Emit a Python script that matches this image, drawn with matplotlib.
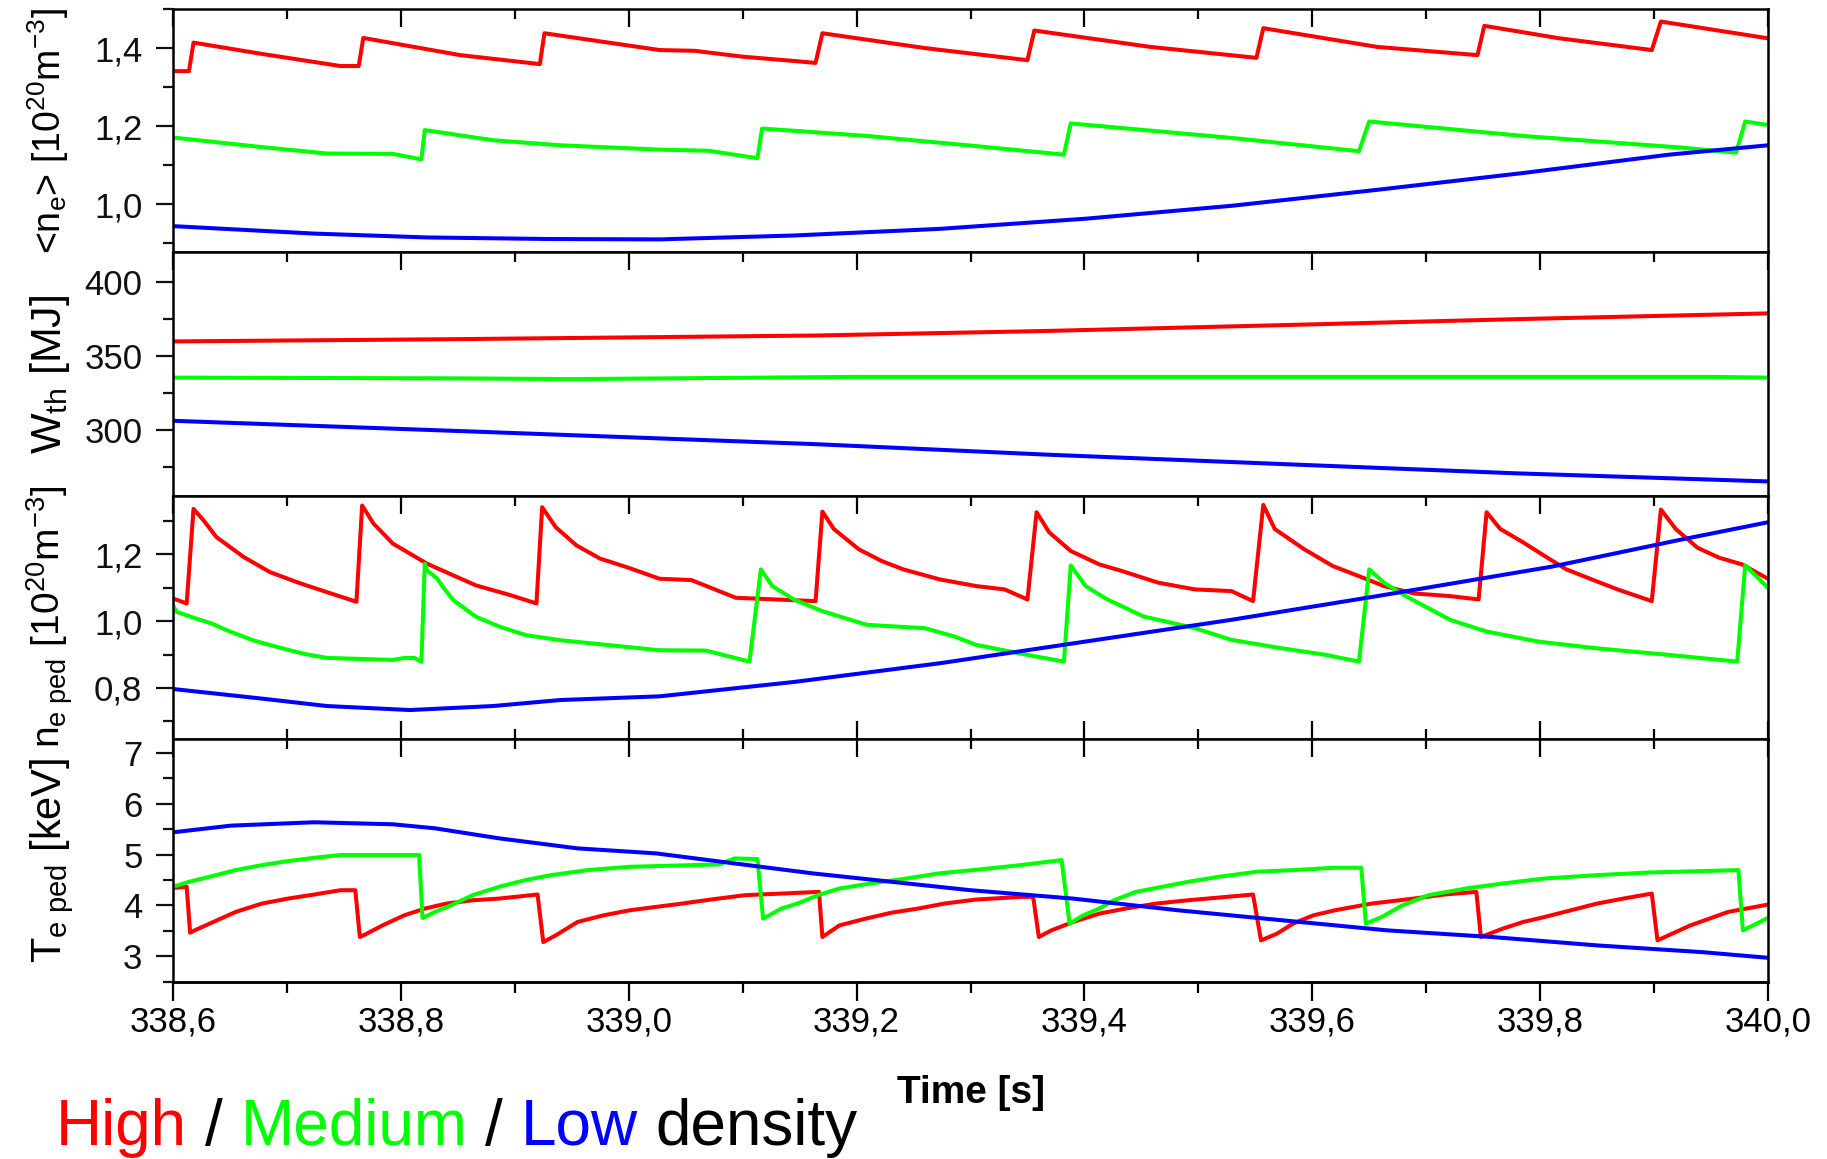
import matplotlib
matplotlib.use("Agg")
import matplotlib.pyplot as plt
from matplotlib.ticker import MultipleLocator, FixedLocator

plt.rcParams['font.family'] = ['Liberation Sans', 'DejaVu Sans']
plt.rcParams['mathtext.fontset'] = 'custom'
plt.rcParams['mathtext.rm'] = 'Liberation Sans'
plt.rcParams['mathtext.it'] = 'Liberation Sans'
plt.rcParams['mathtext.bf'] = 'Liberation Sans:bold'

RED, GREEN, BLUE = '#ff0000', '#00ff00', '#0000ff'

# --- time axis ---
x_ticks = [338.6, 338.8, 339.0, 339.2, 339.4, 339.6, 339.8, 340.0]
x_ticklabels = ['338,6', '338,8', '339,0', '339,2', '339,4', '339,6', '339,8', '340,0']

# --- <n_e> line-averaged density [1e20 m^-3] ---
ne_high_t = [338.600, 338.614, 338.618, 338.676, 338.747, 338.763, 338.767, 338.852, 338.922,
             338.926, 339.027, 339.058, 339.100, 339.145, 339.164, 339.170, 339.260, 339.350,
             339.356, 339.458, 339.551, 339.557, 339.657, 339.745, 339.751, 339.817, 339.898,
             339.906, 340.000]
ne_high = [1.341, 1.341, 1.414, 1.386, 1.354, 1.354, 1.426, 1.382, 1.359,
           1.438, 1.395, 1.393, 1.378, 1.367, 1.362, 1.438, 1.400, 1.369,
           1.445, 1.403, 1.375, 1.451, 1.403, 1.382, 1.457, 1.425, 1.395,
           1.468, 1.425]
ne_med_t = [338.600, 338.676, 338.735, 338.793, 338.818, 338.821, 338.881, 338.940, 339.027,
            339.070, 339.113, 339.117, 339.209, 339.305, 339.382, 339.388, 339.529, 339.641,
            339.650, 339.785, 339.925, 339.972, 339.980, 340.000]
ne_med = [1.171, 1.147, 1.130, 1.129, 1.115, 1.190, 1.164, 1.151, 1.140,
          1.137, 1.118, 1.194, 1.175, 1.149, 1.127, 1.207, 1.170, 1.136,
          1.212, 1.175, 1.145, 1.132, 1.212, 1.203]
ne_low_t = [338.600, 338.723, 338.823, 338.930, 339.027, 339.145, 339.273, 339.401, 339.529,
            339.657, 339.785, 339.913, 340.000]
ne_low = [0.944, 0.925, 0.915, 0.911, 0.910, 0.920, 0.937, 0.963, 0.996,
          1.037, 1.080, 1.127, 1.151]

# --- W_th thermal energy [MJ] ---
wth_high_t = [338.600, 338.858, 339.165, 339.369, 339.574, 339.778, 340.000]
wth_high = [359.9, 361.5, 363.9, 367.0, 370.9, 374.9, 378.8]
wth_med_t = [338.600, 338.850, 338.950, 339.200, 339.950, 340.000]
wth_med = [335.5, 335.0, 334.5, 336.0, 336.0, 335.5]
wth_low_t = [338.600, 338.858, 339.165, 339.369, 339.574, 339.778, 340.000]
wth_low = [306.4, 299.3, 290.6, 283.5, 277.2, 271.0, 265.5]

# --- pedestal density [1e20 m^-3] ---
nped_high_t = [338.600, 338.612, 338.618, 338.627, 338.638, 338.662, 338.685, 338.711, 338.735,
               338.761, 338.766, 338.776, 338.793, 338.808, 338.823, 338.846, 338.866, 338.896,
               338.919, 338.924, 338.936, 338.954, 338.975, 338.998, 339.027, 339.055, 339.094,
               339.164, 339.170, 339.180, 339.202, 339.222, 339.241, 339.273, 339.305, 339.330,
               339.350, 339.358, 339.369, 339.388, 339.413, 339.433, 339.465, 339.497, 339.529,
               339.548, 339.557, 339.567, 339.593, 339.618, 339.637, 339.663, 339.689, 339.721,
               339.746, 339.753, 339.765, 339.785, 339.804, 339.823, 339.849, 339.868, 339.898,
               339.906, 339.919, 339.938, 339.957, 339.977, 340.000]
nped_high = [1.068, 1.053, 1.336, 1.301, 1.252, 1.192, 1.147, 1.114, 1.087,
             1.058, 1.346, 1.292, 1.232, 1.202, 1.172, 1.137, 1.107, 1.078,
             1.053, 1.341, 1.281, 1.227, 1.187, 1.162, 1.127, 1.123, 1.070,
             1.060, 1.328, 1.276, 1.215, 1.180, 1.155, 1.125, 1.105, 1.095,
             1.065, 1.326, 1.266, 1.210, 1.170, 1.150, 1.115, 1.095, 1.090,
             1.060, 1.348, 1.276, 1.215, 1.165, 1.140, 1.105, 1.083, 1.075,
             1.065, 1.326, 1.276, 1.236, 1.195, 1.155, 1.120, 1.095, 1.060,
             1.334, 1.276, 1.220, 1.190, 1.170, 1.127]
nped_med_t = [338.600, 338.603, 338.620, 338.634, 338.647, 338.670, 338.691, 338.714, 338.735,
              338.793, 338.803, 338.812, 338.818, 338.821, 338.823, 338.832, 338.837, 338.846,
              338.866, 338.887, 338.910, 338.940, 338.969, 339.027, 339.068, 339.106, 339.116,
              339.126, 339.145, 339.170, 339.209, 339.260, 339.286, 339.305, 339.350, 339.382,
              339.388, 339.401, 339.420, 339.452, 339.497, 339.529, 339.573, 339.612, 339.641,
              339.650, 339.663, 339.682, 339.721, 339.753, 339.798, 339.849, 339.913, 339.973,
              339.980, 340.000]
nped_med = [1.048, 1.028, 1.008, 0.993, 0.973, 0.943, 0.923, 0.903, 0.890,
            0.884, 0.890, 0.890, 0.878, 1.172, 1.152, 1.127, 1.102, 1.063,
            1.013, 0.983, 0.958, 0.943, 0.933, 0.913, 0.912, 0.879, 1.155,
            1.105, 1.065, 1.030, 0.989, 0.979, 0.954, 0.929, 0.899, 0.879,
            1.167, 1.105, 1.065, 1.014, 0.979, 0.944, 0.919, 0.899, 0.879,
            1.155, 1.115, 1.075, 1.004, 0.969, 0.939, 0.919, 0.899, 0.879,
            1.167, 1.100]
nped_low_t = [338.600, 338.676, 338.735, 338.808, 338.881, 338.940, 339.027, 339.145, 339.273,
              339.401, 339.529, 339.657, 339.810, 339.925, 340.000]
nped_low = [0.797, 0.769, 0.746, 0.734, 0.746, 0.764, 0.775, 0.818, 0.874,
            0.939, 1.004, 1.075, 1.163, 1.245, 1.296]

# --- pedestal temperature [keV] ---
tped_high_t = [338.600, 338.612, 338.615, 338.619, 338.632, 338.655, 338.678, 338.701, 338.724,
               338.747, 338.760, 338.764, 338.770, 338.784, 338.803, 338.821, 338.840, 338.863,
               338.886, 338.920, 338.925, 338.936, 338.955, 338.978, 339.001, 339.024, 339.047,
               339.074, 339.102, 339.167, 339.170, 339.185, 339.208, 339.231, 339.254, 339.277,
               339.305, 339.344, 339.355, 339.360, 339.371, 339.390, 339.413, 339.436, 339.463,
               339.491, 339.518, 339.548, 339.555, 339.569, 339.583, 339.601, 339.620, 339.652,
               339.689, 339.716, 339.744, 339.748, 339.767, 339.785, 339.804, 339.827, 339.850,
               339.873, 339.898, 339.903, 339.919, 339.932, 339.965, 340.000]
tped_high = [4.344, 4.364, 3.461, 3.507, 3.639, 3.870, 4.035, 4.133, 4.213,
             4.298, 4.298, 3.376, 3.442, 3.606, 3.804, 3.936, 4.035, 4.100,
             4.133, 4.213, 3.277, 3.409, 3.672, 3.804, 3.903, 3.969, 4.035,
             4.120, 4.200, 4.265, 3.376, 3.606, 3.738, 3.857, 3.936, 4.035,
             4.114, 4.166, 4.166, 3.376, 3.507, 3.672, 3.837, 3.936, 4.035,
             4.100, 4.153, 4.213, 3.310, 3.442, 3.639, 3.804, 3.903, 4.035,
             4.133, 4.213, 4.265, 3.376, 3.540, 3.672, 3.771, 3.903, 4.035,
             4.133, 4.232, 3.310, 3.474, 3.606, 3.870, 4.015]
tped_med_t = [338.600, 338.614, 338.632, 338.655, 338.678, 338.701, 338.724, 338.747, 338.816,
              338.819, 338.830, 338.844, 338.863, 338.886, 338.909, 338.932, 338.964, 339.001,
              339.079, 339.093, 339.113, 339.118, 339.134, 339.148, 339.166, 339.185, 339.212,
              339.240, 339.272, 339.305, 339.344, 339.380, 339.387, 339.399, 339.413, 339.426,
              339.445, 339.468, 339.491, 339.518, 339.551, 339.583, 339.620, 339.643, 339.647,
              339.661, 339.679, 339.702, 339.735, 339.767, 339.804, 339.850, 339.896, 339.974,
              339.978, 340.000]
tped_med = [4.364, 4.463, 4.562, 4.694, 4.792, 4.871, 4.937, 4.990, 4.990,
            3.751, 3.870, 4.000, 4.200, 4.364, 4.496, 4.595, 4.694, 4.759,
            4.806, 4.924, 4.911, 3.738, 3.936, 4.035, 4.200, 4.331, 4.430,
            4.516, 4.628, 4.700, 4.792, 4.891, 3.639, 3.804, 3.936, 4.100,
            4.265, 4.364, 4.463, 4.562, 4.661, 4.694, 4.740, 4.740, 3.639,
            3.771, 4.000, 4.200, 4.331, 4.430, 4.529, 4.595, 4.647, 4.694,
            3.507, 3.751]
tped_low_t = [338.600, 338.651, 338.724, 338.793, 338.830, 338.886, 338.955, 339.024, 339.093,
              339.162, 339.231, 339.300, 339.390, 339.482, 339.574, 339.666, 339.758, 339.850,
              339.942, 340.000]
tped_low = [5.438, 5.570, 5.636, 5.596, 5.517, 5.320, 5.122, 5.023, 4.825,
            4.628, 4.463, 4.298, 4.133, 3.903, 3.705, 3.507, 3.376, 3.211,
            3.079, 2.967]

panels = [
    dict(series=[(ne_high_t, ne_high, RED), (ne_med_t, ne_med, GREEN), (ne_low_t, ne_low, BLUE)],
         ylim=(0.877, 1.50), yticks=[1.0, 1.2, 1.4], ylabels=['1,0', '1,2', '1,4'], minor=0.1,
         label=r'<n$_\mathrm{e}$> [10$^{20}$m$^{-3}$]', lsize=27),
    dict(series=[(wth_high_t, wth_high, RED), (wth_med_t, wth_med, GREEN), (wth_low_t, wth_low, BLUE)],
         ylim=(256, 420), yticks=[300, 350, 400], ylabels=['300', '350', '400'], minor=25,
         label=r'W$_\mathrm{th}$ [MJ]', lsize=31),
    dict(series=[(nped_high_t, nped_high, RED), (nped_med_t, nped_med, GREEN), (nped_low_t, nped_low, BLUE)],
         ylim=(0.648, 1.376), yticks=[0.8, 1.0, 1.2], ylabels=['0,8', '1,0', '1,2'], minor=0.1,
         label=r'n$_\mathrm{e\ ped}$ [10$^{20}$m$^{-3}$]', lsize=28),
    dict(series=[(tped_high_t, tped_high, RED), (tped_med_t, tped_med, GREEN), (tped_low_t, tped_low, BLUE)],
         ylim=(2.49, 7.28), yticks=[3, 4, 5, 6, 7], ylabels=['3', '4', '5', '6', '7'], minor=0.5,
         label=r'T$_\mathrm{e\ ped}$ [keV]', lsize=30),
]

fig = plt.figure(figsize=(18.27, 11.59), dpi=100)
gs = fig.add_gridspec(4, 1, left=0.0947, right=0.9677, top=0.9922, bottom=0.1527, hspace=0)
axes = [fig.add_subplot(gs[i]) for i in range(4)]

for i, (ax, p) in enumerate(zip(axes, panels)):
    for t, v, c in p['series']:
        ax.plot(t, v, color=c, lw=2.9)
    ax.set_xlim(338.6, 340.0)
    ax.set_ylim(*p['ylim'])
    ax.yaxis.set_major_locator(FixedLocator(p['yticks']))
    ax.set_yticklabels(p['ylabels'])
    ax.yaxis.set_minor_locator(MultipleLocator(p['minor']))
    ax.xaxis.set_major_locator(FixedLocator(x_ticks))
    ax.xaxis.set_minor_locator(MultipleLocator(0.1))
    ax.tick_params(axis='y', which='both', direction='out', width=1.6, right=False,
                   labelsize=25, pad=10, colors='#111111')
    ax.tick_params(axis='y', which='major', length=12)
    ax.tick_params(axis='y', which='minor', length=7)
    ax.tick_params(axis='x', which='both', direction='in', top=True, bottom=(i == 2),
                   labelbottom=False, width=1.6)
    ax.tick_params(axis='x', which='major', length=13)
    ax.tick_params(axis='x', which='minor', length=7)
    for s in ax.spines.values():
        s.set_linewidth(1.8)
    ax.set_ylabel(p['label'], fontsize=p['lsize'], va='baseline')
    ax.yaxis.set_label_coords(-0.0702, 0.5)

# time axis with outward ticks under the last panel
bottom = axes[-1]
bottom.tick_params(axis='x', which='both', bottom=False)
bottom.set_xlabel('Time [s]', fontsize=28, fontweight='bold', va='center')
bottom.xaxis.set_label_coords(0.5, -0.457)
sec = bottom.secondary_xaxis('bottom')
sec.xaxis.set_major_locator(FixedLocator(x_ticks))
sec.set_xticklabels(x_ticklabels)
sec.xaxis.set_minor_locator(MultipleLocator(0.1))
sec.tick_params(axis='x', which='both', direction='out', width=1.6, labelsize=25, pad=3)
sec.tick_params(axis='x', which='major', length=14)
sec.tick_params(axis='x', which='minor', length=8)
sec.spines['bottom'].set_linewidth(1.8)

# coloured caption: each word placed after its prefix
caption = [('High', RED), ('/', 'black'), ('Medium', GREEN), ('/', 'black'),
           ('Low', BLUE), ('density', 'black')]
full = 'High / Medium / Low density'
x0, y0, fs = 0.0307, 0.0121, 46
renderer = fig.canvas.get_renderer()


def text_width(s):
    tmp = fig.text(0, 0, s, fontsize=fs)
    w = tmp.get_window_extent(renderer).width
    tmp.remove()
    return w


pos = 0
for word, col in caption:
    pos = full.index(word, pos) + len(word)
    dx = (text_width(full[:pos]) - text_width(word)) / fig.bbox.width
    fig.text(x0 + dx, y0, word, fontsize=fs, color=col, va='baseline')

fig.savefig('out.png', dpi=100)
